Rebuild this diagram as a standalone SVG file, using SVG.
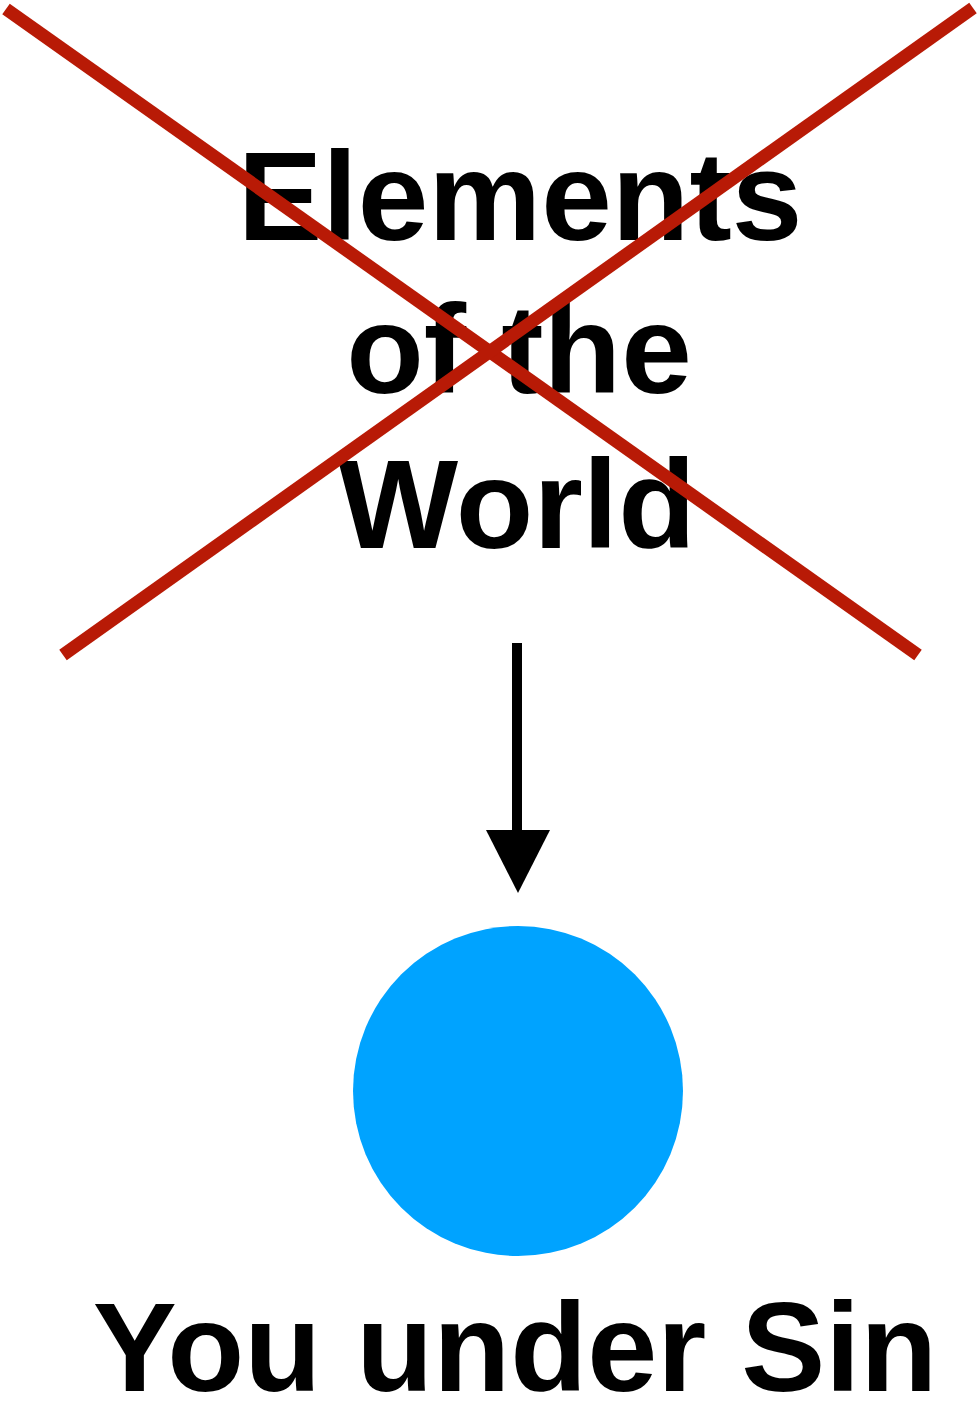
<svg xmlns="http://www.w3.org/2000/svg" width="978" height="1409" viewBox="0 0 978 1409">
<style>
.t{font-family:"Liberation Sans",Arial,sans-serif;font-weight:bold;fill:#000;text-anchor:middle}
.x{stroke:#b81a06;stroke-width:13;fill:none}
</style>
<rect width="978" height="1409" fill="#fff"/>
<g id="elements">
<text class="t" x="520" y="240" font-size="127">Elements</text>
<text class="t" x="519" y="393" font-size="127">of the</text>
<text class="t" x="517" y="548" font-size="127">World</text>
<line class="x" x1="6" y1="9" x2="918" y2="655"/>
<line class="x" x1="973" y1="8" x2="63" y2="655"/>
</g>
<g id="connectors">
<line x1="517" y1="643" x2="517" y2="832" stroke="#000" stroke-width="10"/>
<polygon points="486,830 550,830 518,893" fill="#000"/>
</g>
<g id="you">
<circle cx="518" cy="1091" r="165" fill="#00a3ff"/>
<text class="t" x="515" y="1391" font-size="126">You under Sin</text>
</g>
</svg>
